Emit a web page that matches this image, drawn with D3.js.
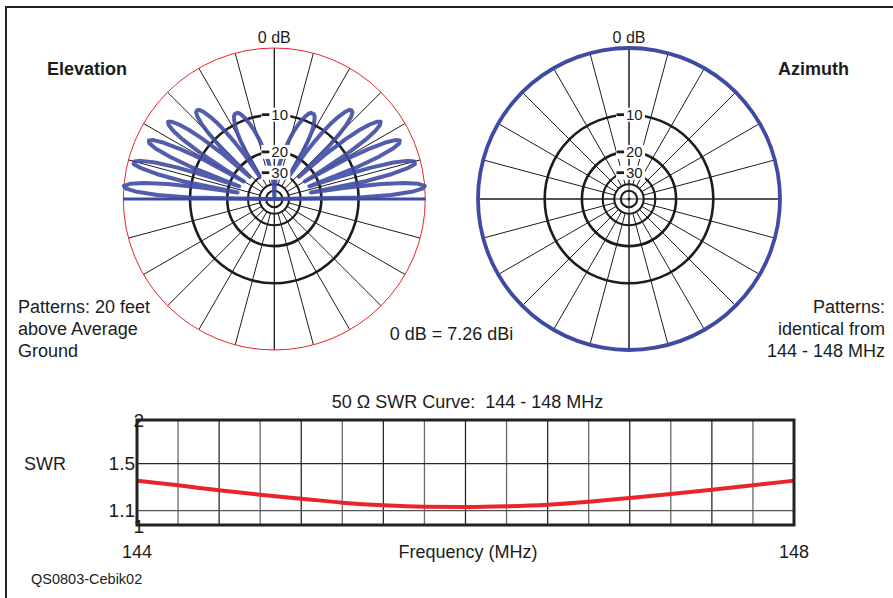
<!DOCTYPE html>
<html><head><meta charset="utf-8">
<script src="https://cdn.jsdelivr.net/npm/d3@7"></script>
<style>
body{margin:0;background:#fff;}
svg{display:block;font-family:"Liberation Sans",Arial,Helvetica,sans-serif;}
</style>
</head><body>
<svg id="chart" width="893" height="598"></svg>
<script>
// ---------- DATA ----------
// Elevation pattern (right half, elevation angle in degrees, relative dB); left half is the mirror image
const elevAngles = [0,1,2,3,4,5,6,7,8,9,10,11,12,13,14,15,16,17,18,19,20,21,22,23,24,25,26,27,28,29,30,
  31,32,33,34,35,36,37,38,39,40,41,42,43,44,45,46,47,48,49,50,51,52,53,54,55,56,57,58,59,60,
  61,62,63,64,65,66,67,68,69,70,72,74,76,78,80,82,84,86,88,90];
const elevDb = [-99,-9.9,-4.4,-1.6,-0.3,0.0,-0.7,-2.4,-5.8,-13.2,-24.0,-8.3,-3.9,-1.7,-0.7,-0.7,-1.5,-3.3,-6.8,-14.4,-24.0,
  -9.4,-5.1,-2.7,-1.7,-1.5,-2.0,-3.4,-6.1,-10.4,-25.0,-16.7,-9.1,-5.6,-3.7,-2.7,-2.4,-2.8,-3.8,-5.5,-8.2,
  -13.0,-26.0,-19.5,-11.8,-8.3,-6.2,-5.0,-4.4,-4.3,-4.5,-5.2,-6.3,-7.8,-10.0,-13.1,-17.8,-30.0,-24.9,-17.2,-13.6,
  -11.4,-10.1,-9.2,-8.5,-8.2,-8.2,-8.2,-8.5,-9.0,-9.6,-11.2,-13.2,-15.7,-18.6,-21.9,-25.8,-30.3,-35.6,-42.9,-99];
// Azimuth pattern: identical (0 dB) all round
const azAngles = [0,10,20,30,40,50,60,70,80,90,100,110,120,130,140,150,160,170,
  180,190,200,210,220,230,240,250,260,270,280,290,300,310,320,330,340,350];
const azDb = [0,0,0,0,0,0,0,0,0,0,0,0,0,0,0,0,0,0,0,0,0,0,0,0,0,0,0,0,0,0,0,0,0,0,0,0];
const ringDb = [-10,-20,-30,-40,-50];
const ringLabelDb = [-10,-20,-30];
const ringLabels = ["10","20","30"];
const spokeAngles = [0,15,30,45,60,75,90,105,120,135,150,165,180,195,210,225,240,255,270,285,300,315,330,345];

// SWR curve
const swrFreq = [144,144.25,144.5,144.75,145,145.25,145.5,145.75,146,146.25,146.5,146.75,147,147.25,147.5,147.75,148];
const swrVal  = [1.34,1.30,1.257,1.221,1.19,1.159,1.139,1.128,1.126,1.131,1.143,1.166,1.195,1.227,1.262,1.30,1.34];
const swrTicks = [1,1.1,1.5,2];
const swrTickLabels = ["1","1.1","1.5","2"];
const freqTicks = [144,148];
const freqTickLabels = ["144","148"];

// ---------- DRAW ----------
const svg = d3.select("#chart");
const BLUE = "#3f4ba3", RED = "#e8252c", INK = "#1c1c1c";
const R = 151;

// frame
svg.append("path").attr("d","M6,598V7H893").attr("fill","none").attr("stroke","#222").attr("stroke-width",2);

// log-periodic (ARRL) radial scale: r = R*0.89^(-dB/2)
const dbScale = d3.scaleLog().domain([R*Math.pow(0.89,50), R]).range([-100,0]);
const rOf = db => dbScale.invert(Math.max(db,-100));

function polarGrid(g, outerColor, outerWidth) {
  g.selectAll("line.spoke").data(spokeAngles).join("line")
    .attr("x1", a => rOf(-40)*Math.cos(a*Math.PI/180))
    .attr("y1", a => -rOf(-40)*Math.sin(a*Math.PI/180))
    .attr("x2", a => R*Math.cos(a*Math.PI/180))
    .attr("y2", a => -R*Math.sin(a*Math.PI/180))
    .attr("stroke", INK).attr("stroke-width", 1);
  g.append("line").attr("x1",-R).attr("x2",R).attr("y1",0).attr("y2",0).attr("stroke",INK).attr("stroke-width",1);
  g.append("line").attr("y1",-R).attr("y2",R).attr("x1",0).attr("x2",0).attr("stroke",INK).attr("stroke-width",1);
  g.selectAll("circle.ring").data(ringDb).join("circle")
    .attr("r", d => rOf(d)).attr("fill","none").attr("stroke",INK)
    .attr("stroke-width", d => d >= -20 ? 2.6 : 2.1);
  g.append("circle").attr("r",1.6).attr("fill",INK);
  g.append("circle").attr("r",R).attr("fill","none").attr("stroke",outerColor).attr("stroke-width",outerWidth);
}
function ringLabelsDraw(g) {
  const lab = g.selectAll("g.lab").data(ringLabelDb).join("g")
    .attr("transform", d => `translate(0,${-rOf(d)})`);
  lab.append("rect").attr("x",-13).attr("y",-7).attr("width",29).attr("height",14).attr("fill","#fff");
  lab.append("rect").attr("x",-12.5).attr("y",-1.4).attr("width",7.5).attr("height",2.8).attr("fill",INK);
  lab.append("text").attr("x",-3).attr("y",5.4).attr("font-size",15).attr("fill",INK)
    .text((d,i) => ringLabels[i]);
  g.append("text").attr("x",0).attr("y",-R-5).attr("text-anchor","middle").attr("font-size",16).attr("fill",INK).text("0 dB");
}

// Elevation
const gE = svg.append("g").attr("transform","translate(274.3,199)");
polarGrid(gE, RED, 1);
const rightPts = elevAngles.map((a,i) => ({a:a, db:elevDb[i]}));
const leftPts = elevAngles.map((a,i) => ({a:180-a, db:elevDb[i]})).reverse();
const elevPts = rightPts.concat(leftPts);
const radial = d3.lineRadial()
  .angle(d => (90 - d.a) * Math.PI/180)
  .radius(d => rOf(d.db));
gE.append("line").attr("x1",-R).attr("x2",R).attr("y1",0).attr("y2",0)
  .attr("stroke",BLUE).attr("stroke-width",3);
gE.append("path").attr("d", radial.curve(d3.curveLinear)(elevPts))
  .attr("fill","none").attr("stroke",BLUE).attr("stroke-width",4).attr("stroke-linejoin","round").attr("opacity",0.9);
ringLabelsDraw(gE);

// Azimuth
const gA = svg.append("g").attr("transform","translate(629,199)");
polarGrid(gA, BLUE, 1);
const azPts = azAngles.map((a,i) => ({a:a, db:azDb[i]}));
gA.append("path").attr("d", d3.lineRadial().angle(d => (90 - d.a)*Math.PI/180).radius(d => rOf(d.db)).curve(d3.curveCardinalClosed)(azPts))
  .attr("fill","none").attr("stroke",BLUE).attr("stroke-width",3.8);
ringLabelsDraw(gA);

// Texts
const txt = (x,y,s,opt={}) => svg.append("text").attr("x",x).attr("y",y)
  .attr("font-size",opt.size||18).attr("font-weight",opt.bold?"bold":"normal")
  .attr("text-anchor",opt.anchor||"start").attr("fill",INK).text(s);
txt(47,74.5,"Elevation",{bold:true});
txt(778,74.5,"Azimuth",{bold:true});
txt(18,312.5,"Patterns: 20 feet");
txt(18,334.5,"above Average");
txt(18,356.5,"Ground");
txt(885,312.5,"Patterns:",{anchor:"end"});
txt(885,334.5,"identical from",{anchor:"end"});
txt(885,356.5,"144 - 148 MHz",{anchor:"end"});
txt(451.5,339.5,"0 dB = 7.26 dBi",{anchor:"middle"});

// SWR chart
const x = d3.scaleLinear().domain([144,148]).range([137,794]);
const y = d3.scaleLog().domain([1,2]).range([525,420]);
const gS = svg.append("g");
txt(467.5,407.5,"50 \u03A9 SWR Curve:\u00A0 144 - 148 MHz",{anchor:"middle"});
txt(24,469.5,"SWR");
const vGrid = d3.range(144,148.001,0.25);
gS.selectAll("line.vg").data(vGrid).join("line")
  .attr("x1",d=>x(d)).attr("x2",d=>x(d)).attr("y1",y(2)).attr("y2",y(1))
  .attr("stroke",(d,i)=> i%2 ? "#6a6a6a" : "#2a2a2a").attr("stroke-width",1.3);
gS.selectAll("line.hg").data(swrTicks.slice(1,3)).join("line")
  .attr("x1",x(144)).attr("x2",x(148)).attr("y1",d=>y(d)).attr("y2",d=>y(d))
  .attr("stroke",(d)=> d===1.1 ? "#555" : "#2a2a2a").attr("stroke-width",1.3);
gS.append("path").datum(swrFreq.map((f,i)=>[f,swrVal[i]]))
  .attr("d", d3.line().x(d=>x(d[0])).y(d=>y(d[1])).curve(d3.curveMonotoneX))
  .attr("fill","none").attr("stroke",RED).attr("stroke-width",4);
gS.append("rect").attr("x",x(144)).attr("y",y(2)).attr("width",x(148)-x(144)).attr("height",y(1)-y(2))
  .attr("fill","none").attr("stroke","#222").attr("stroke-width",3);
gS.selectAll("text.yt").data(swrTicks).join("text")
  .attr("x",d => Number.isInteger(d) ? 144 : 135)
  .attr("y",d => y(d) + (d === 1 ? 8 : 6.5))
  .attr("text-anchor","end").attr("font-size",19).attr("fill",INK)
  .text((d,i)=>swrTickLabels[i]);
gS.selectAll("text.xt").data(freqTicks).join("text")
  .attr("x",d=>x(d)).attr("y",558).attr("text-anchor","middle").attr("font-size",18).attr("fill",INK)
  .text((d,i)=>freqTickLabels[i]);
txt(468,558,"Frequency (MHz)",{anchor:"middle"});
txt(31,584,"QS0803-Cebik02",{size:14.5});
</script>
</body></html>
